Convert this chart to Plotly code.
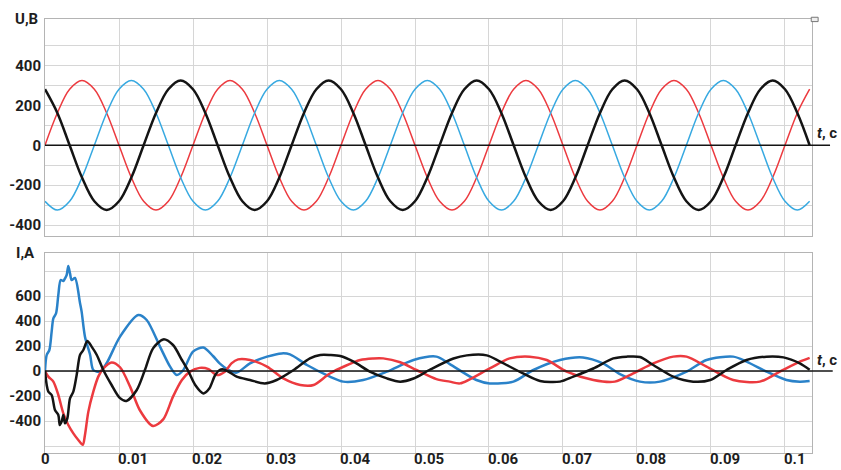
import plotly.graph_objects as go

# ---------------- data ----------------
# voltage sampling times, s
t_u = [0.0, 0.00167, 0.00333, 0.005, 0.00667, 0.00833,
       0.01, 0.01167, 0.01333, 0.015, 0.01667, 0.01833,
       0.02, 0.02167, 0.02333, 0.025, 0.02667, 0.02833,
       0.03, 0.03167, 0.03333, 0.035, 0.03667, 0.03833,
       0.04, 0.04167, 0.04333, 0.045, 0.04667, 0.04833,
       0.05, 0.05167, 0.05333, 0.055, 0.05667, 0.05833,
       0.06, 0.06167, 0.06333, 0.065, 0.06667, 0.06833,
       0.07, 0.07167, 0.07333, 0.075, 0.07667, 0.07833,
       0.08, 0.08167, 0.08333, 0.085, 0.08667, 0.08833,
       0.09, 0.09167, 0.09333, 0.095, 0.09667, 0.09833,
       0.1, 0.10167, 0.10333]

u_red = [0, 162, 281, 325, 281, 162, 0, -162, -281, -325, -281, -162,
         0, 162, 281, 325, 281, 162, 0, -162, -281, -325, -281, -162,
         0, 162, 281, 325, 281, 162, 0, -162, -281, -325, -281, -162,
         0, 162, 281, 325, 281, 162, 0, -162, -281, -325, -281, -162,
         0, 162, 281, 325, 281, 162, 0, -162, -281, -325, -281, -162,
         0, 162, 281]
u_blue = [-281, -325, -281, -162, 0, 162, 281, 325, 281, 162, 0, -162,
          -281, -325, -281, -162, 0, 162, 281, 325, 281, 162, 0, -162,
          -281, -325, -281, -162, 0, 162, 281, 325, 281, 162, 0, -162,
          -281, -325, -281, -162, 0, 162, 281, 325, 281, 162, 0, -162,
          -281, -325, -281, -162, 0, 162, 281, 325, 281, 162, 0, -162,
          -281, -325, -281]
u_black = [281, 162, 0, -162, -281, -325, -281, -162, 0, 162, 281, 325,
           281, 162, 0, -162, -281, -325, -281, -162, 0, 162, 281, 325,
           281, 162, 0, -162, -281, -325, -281, -162, 0, 162, 281, 325,
           281, 162, 0, -162, -281, -325, -281, -162, 0, 162, 281, 325,
           281, 162, 0, -162, -281, -325, -281, -162, 0, 162, 281, 325,
           281, 162, 0]

# currents (time s, value A)
t_ib = [0, 0.00023, 0.00059, 0.0009, 0.00113, 0.00149, 0.0018, 0.00212, 0.00248,
        0.0027, 0.00293, 0.00315, 0.00338, 0.0036, 0.00405, 0.00473, 0.00495,
        0.0054, 0.0061, 0.00653, 0.00743, 0.00834, 0.01014, 0.0126, 0.01374,
        0.01554, 0.0169, 0.0178, 0.0187, 0.02, 0.0214, 0.0227, 0.0236, 0.0248,
        0.0259, 0.0277, 0.030, 0.032, 0.0331, 0.0354, 0.0385, 0.0403, 0.043,
        0.0462, 0.0498, 0.0529, 0.0547, 0.0583, 0.0601, 0.0633, 0.066, 0.0696,
        0.0727, 0.0754, 0.0777, 0.0804, 0.0831, 0.0867, 0.0894, 0.093, 0.0948,
        0.0975, 0.1002, 0.102, 0.10333]
i_blue = [0, 128, 168, 315, 421, 461, 608, 728, 720,
          741, 768, 840, 781, 728, 744, 544, 475,
          275, 128, 8, -5, 64, 275, 448, 408,
          195, 35, -32, 8, 155, 188, 120, 61, 8,
          -13, 61, 115, 141, 133, 48, -45, -85, -72,
          -5, 88, 115, 55, -72, -99, -85, 8, 88,
          109, 61, -25, -85, -85, -5, 88, 115, 75,
          -5, -72, -85, -80]

t_ir = [0, 0.00045, 0.00113, 0.0018, 0.00248, 0.00315, 0.00383, 0.0045, 0.0051,
        0.0054, 0.00586, 0.00653, 0.0072, 0.00788, 0.009, 0.01014, 0.0115,
        0.0128, 0.0146, 0.016, 0.0173, 0.0185, 0.0196, 0.0209, 0.0221, 0.0232,
        0.0243, 0.0252, 0.0261, 0.0277, 0.030, 0.0322, 0.0345, 0.0363, 0.0385,
        0.0426, 0.0444, 0.0457, 0.048, 0.0502, 0.0529, 0.0547, 0.0561, 0.0601,
        0.0628, 0.0655, 0.0678, 0.0705, 0.0741, 0.0770, 0.0795, 0.0822, 0.0849,
        0.0867, 0.0894, 0.093, 0.0966, 0.0993, 0.102, 0.10333]
i_red = [0, -45, -85, -192, -339, -432, -499, -552, -590,
         -512, -325, -165, -45, 21, 69, 30, -125,
         -312, -440, -385, -205, -72, -5, 25, 15, -32,
         -5, 61, 93, 88, 35, -59, -112, -112, -20,
         88, 101, 101, 70, 8, -65, -85, -99, 21,
         101, 115, 88, -5, -72, -85, -19, 61, 115,
         115, 35, -72, -85, -5, 75, 105]

t_ik = [0, 0.00023, 0.00045, 0.0009, 0.00135, 0.0018, 0.002, 0.00225, 0.00248,
        0.0027, 0.00302, 0.00338, 0.00383, 0.00428, 0.00473, 0.00518, 0.00572,
        0.0063, 0.007, 0.00788, 0.009, 0.0101, 0.0110, 0.0124, 0.0135, 0.0146,
        0.016, 0.0173, 0.0185, 0.0194, 0.0203, 0.0214, 0.0222, 0.023, 0.0236,
        0.0241, 0.0248, 0.0259, 0.0277, 0.0297, 0.0313, 0.0336, 0.0358, 0.0372,
        0.0385, 0.0399, 0.0417, 0.0439, 0.0462, 0.048, 0.0498, 0.052, 0.0552,
        0.057, 0.0597, 0.0615, 0.0646, 0.0669, 0.0696, 0.0714, 0.0741, 0.0768,
        0.0786, 0.0804, 0.0822, 0.0849, 0.0876, 0.0899, 0.0921, 0.0948, 0.0975,
        0.0998, 0.102, 0.10333]
i_black = [0, -112, -165, -192, -312, -352, -432, -405, -352,
           -419, -379, -219, -165, -32, 128, 168, 240,
           195, 128, 8, -112, -215, -240, -152, 8, 181,
           253, 208, 88, -5, -112, -179, -140, -32, 8,
           13, -5, -45, -72, -99, -72, 8, 101, 128,
           128, 120, 75, -5, -59, -85, -60, 10, 100,
           125, 125, 75, -19, -80, -85, -45, 20, 101,
           115, 112, 48, -45, -85, -72, 8, 88, 115,
           109, 61, 10]

x_ticks = [0, 0.01, 0.02, 0.03, 0.04, 0.05, 0.06, 0.07, 0.08, 0.09, 0.1]
x_labels = ["0", "0.01", "0.02", "0.03", "0.04", "0.05", "0.06", "0.07", "0.08", "0.09", "0.1"]
u_ticks = [-400, -300, -200, -100, 0, 100, 200, 300, 400, 500]
u_labels = ["-400", "", "-200", "", "0", "", "200", "", "400", ""]
i_ticks = [-600, -400, -200, 0, 200, 400, 600, 800]
i_labels = ["", "-400", "-200", "0", "200", "400", "600", ""]

# ---------------- styles ----------------
RED = "#ec3a3f"
SKY = "#37a9e1"
BLUE = "#2a82c9"
BLACK = "#141414"
GRID = "#d6d6d6"
BORDER = "#b4b4b4"
FONT = dict(family="Roboto", size=15, color="#1e1e1e", weight="bold")

fig = go.Figure()
fig.add_trace(go.Scatter(x=t_u, y=u_red, mode="lines", line=dict(color=RED, width=1.5, shape="spline"), xaxis="x", yaxis="y"))
fig.add_trace(go.Scatter(x=t_u, y=u_blue, mode="lines", line=dict(color=SKY, width=1.5, shape="spline"), xaxis="x", yaxis="y"))
fig.add_trace(go.Scatter(x=t_u, y=u_black, mode="lines", line=dict(color=BLACK, width=2.5, shape="spline"), xaxis="x", yaxis="y"))

fig.add_trace(go.Scatter(x=t_ib, y=i_blue, mode="lines", line=dict(color=BLUE, width=2.5, shape="spline", smoothing=0.8), xaxis="x2", yaxis="y2"))
fig.add_trace(go.Scatter(x=t_ir, y=i_red, mode="lines", line=dict(color=RED, width=2.5, shape="spline", smoothing=0.8), xaxis="x2", yaxis="y2"))
fig.add_trace(go.Scatter(x=t_ik, y=i_black, mode="lines", line=dict(color=BLACK, width=2.5, shape="spline", smoothing=0.8), xaxis="x2", yaxis="y2"))

xcommon = dict(range=[0, 0.10365], showgrid=True, gridcolor=GRID, gridwidth=1,
               showline=True, linecolor=BORDER, linewidth=1, mirror=True,
               zeroline=False, ticks="", tickvals=x_ticks, showticklabels=False,
               automargin=False)
ycommon = dict(showgrid=True, gridcolor=GRID, showline=True, linecolor=BORDER, mirror=True,
               zeroline=False, ticks="", tickfont=FONT, automargin=False)
fig.update_layout(
    width=841, height=470,
    margin=dict(l=45, r=29, t=19, b=17),
    paper_bgcolor="white", plot_bgcolor="white",
    showlegend=False,
    xaxis=dict(xcommon, domain=[0, 1], anchor="y"),
    xaxis2=dict(xcommon, domain=[0, 1], anchor="y2"),
    yaxis=dict(ycommon, domain=[0.5, 1], anchor="x", range=[-455, 633], tickvals=u_ticks, ticktext=u_labels),
    yaxis2=dict(ycommon, domain=[0, 0.4608], anchor="x2", range=[-656, 944], tickvals=i_ticks, ticktext=i_labels),
)

# x tick labels (left-aligned at grid lines, as in the original), placed via the x2 axis scale
for i, (tv, tl) in enumerate(zip(x_ticks, x_labels)):
    fig.add_annotation(text=tl, xref="x2", yref="paper", x=tv, y=-0.0375,
                       xanchor="center" if i == 0 else "left", yanchor="bottom",
                       xshift=0 if i == 0 else -2, showarrow=False, font=FONT, borderpad=0)

# zero lines extending past the right border
fig.add_shape(type="line", xref="x domain", yref="y", x0=0, x1=1.0235, y0=0, y1=0,
              line=dict(color=BLACK, width=1.5), layer="above")
fig.add_shape(type="line", xref="x2 domain", yref="y2", x0=0, x1=1.027, y0=0, y1=0,
              line=dict(color=BLACK, width=1.5), layer="above")

# small box icon at top-right corner
fig.add_shape(type="rect", xref="paper", yref="paper", x0=0.999, x1=1.008, y0=0.994, y1=1.004,
              line=dict(color="#777", width=1), fillcolor="#eee")

# axis titles
fig.add_annotation(text="U,B", xref="paper", yref="paper", x=-0.006, y=1.0, xanchor="right", yanchor="middle",
                   showarrow=False, font=FONT)
fig.add_annotation(text="I,A", xref="paper", yref="paper", x=-0.01, y=0.4608, xanchor="right", yanchor="middle",
                   showarrow=False, font=FONT)
fig.add_annotation(text="<i>t</i>, c", xref="x domain", yref="y", x=1.034, y=60, xanchor="right", yanchor="middle",
                   showarrow=False, font=FONT, borderpad=0)
fig.add_annotation(text="<i>t</i>, c", xref="x2 domain", yref="y2", x=1.034, y=90, xanchor="right", yanchor="middle",
                   showarrow=False, font=FONT, borderpad=0)

fig.write_html("out.html")
